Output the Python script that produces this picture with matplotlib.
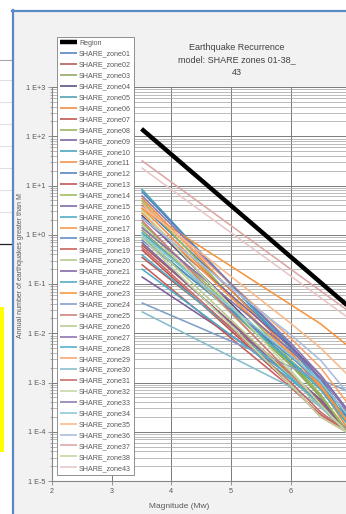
import matplotlib.pyplot as plt
from matplotlib.lines import Line2D
from matplotlib.patches import Rectangle
from matplotlib.ticker import FixedLocator, LogLocator, FuncFormatter, NullFormatter
import numpy as np

plt.rcParams['font.family'] = ['Liberation Sans', 'DejaVu Sans']

W, H = 346, 514

# magnitudes at which the recurrence curves are tabulated
mags = [3.5, 6.0, 6.5, 7.0]

series_names = (['Region'] + ['SHARE_zone%02d' % i for i in range(1, 39)]
                + ['SHARE_zone43'])

# log10 of the annual number of events >= M, one value per series
log_n_35 = [2.15, 0.60, -0.20, 0.10, 0.40, -0.05, 0.75, -0.45, 0.25, -0.85,
            0.93, 0.55, 0.88, -0.30, 0.70, 0.35, 0.05, 0.45, -0.10, -0.60,
            0.20, -0.15, -0.69, 0.53, -1.38, 0.30, 0.00, 0.15, -0.40, 0.65,
            -1.56, -0.25, 0.50, 0.80, 0.00, 0.58, 0.35, 1.51, -0.05, 1.36]
log_n_60 = [-0.45, -2.28, -2.83, -2.65, -2.60, -2.55, -2.38, -2.83, -2.63, -2.85,
            -2.32, -2.45, -2.25, -3.05, -2.55, -2.28, -2.58, -2.43, -2.48, -3.10,
            -2.80, -2.90, -2.94, -1.42, -2.68, -2.83, -2.88, -2.35, -2.90, -2.10,
            -3.09, -3.00, -2.75, -2.20, -2.45, -1.80, -2.03, -0.70, -3.05, -0.84]
log_n_65 = [-0.97, -2.95, -3.40, -3.30, -3.25, -3.10, -3.10, -3.35, -3.25, -3.35,
            -3.02, -3.10, -2.92, -3.70, -3.25, -2.85, -3.15, -3.05, -3.00, -3.65,
            -3.45, -3.50, -3.44, -1.81, -2.94, -3.50, -3.50, -2.90, -3.45, -2.70,
            -3.49, -3.60, -3.45, -2.85, -2.99, -2.30, -2.55, -1.14, -3.70, -1.28]
log_n_70 = [-1.49, -3.93, -4.10, -4.10, -4.10, -3.80, -4.03, -4.08, -4.08, -4.05,
            -3.92, -3.90, -3.80, -4.05, -4.10, -3.63, -3.93, -3.88, -3.73, -4.05,
            -4.10, -4.05, -4.10, -2.30, -3.20, -4.05, -4.05, -3.65, -4.10, -3.50,
            -4.10, -4.05, -4.10, -3.70, -3.73, -2.90, -3.28, -1.58, -4.05, -1.72]

series_colors = ['#000000',
                 '#4f81bd', '#b0574f', '#8da562', '#584b78', '#4a9fb3', '#f08a3c',
                 '#c0504d', '#93b557', '#7a5f9c', '#45a3bb', '#f38f42', '#4f81bd',
                 '#c0504d', '#9bbb59', '#8064a2', '#4bacc6', '#f79646', '#5b8cc4',
                 '#c85c59', '#b3c98a', '#8064a2', '#4bacc6', '#f7953f', '#7f9fc8',
                 '#d07d7a', '#b7cc8f', '#8a70aa', '#4eb0c8', '#f7a46c', '#86bccb',
                 '#c86a67', '#c4d6a0', '#8d79ad', '#8ac8d8', '#f9b98a', '#a7bedd',
                 '#dba6a4', '#c2d6a0', '#e8c6c6']


def fig_xy(x, y):
    return x / W, 1 - y / H


fig = plt.figure(figsize=(W / 100, H / 100), dpi=100, facecolor='white')

# surrounding window bits to the left of the chart
for yy, col in [(60, '#a6a6a6'), (80, '#e0e0e0'), (102, '#e0e0e0'),
                (124, '#e0e0e0'), (146, '#e0e0e0'), (168, '#e0e0e0'),
                (190, '#e0e0e0'), (212, '#e0e0e0')]:
    fig.add_artist(Line2D([0, 12 / W], [1 - yy / H] * 2, color=col, lw=0.8,
                          zorder=-2))
fig.add_artist(Line2D([0, 12 / W], [1 - 244 / H] * 2, color='#202020', lw=0.9,
                      zorder=-2))
fig.add_artist(Rectangle(fig_xy(0, 452), 4 / W, 145 / H, color='#ffff00', lw=0,
                         zorder=-2))

# chart area with its blue frame
fig.add_artist(Rectangle(fig_xy(13, 514), 1 - 13 / W, 503 / H,
                         facecolor='#f2f2f2', edgecolor='none', zorder=-3))
fig.add_artist(Line2D([12.5 / W] * 2, [0, 1 - 10 / H], color='#5a8ac6', lw=1.6,
                      zorder=-2))
fig.add_artist(Line2D([12 / W, 1], [1 - 10.5 / H] * 2, color='#5a8ac6', lw=1.6,
                      zorder=-2))

ax = fig.add_axes([52 / W, 1 - 481 / H, 294 / W, 394 / H])
ax.set_zorder(2)
ax.set_facecolor('white')

for name, col, a, b, c, d in zip(series_names, series_colors,
                                  log_n_35, log_n_60, log_n_65, log_n_70):
    rates = 10 ** np.array([a, b, c, d])
    lw = 3.2 if name == 'Region' else 1.15
    ax.plot(mags, rates, color=col, lw=lw, label=name, solid_capstyle='butt')

ax.set_yscale('log')
ax.set_xlim(2, 2 + 294 / 59.7)
ax.set_ylim(1e-5, 1e3)

ax.xaxis.set_major_locator(FixedLocator([2, 3, 4, 5, 6]))
ax.yaxis.set_major_locator(FixedLocator([10.0 ** k for k in range(-5, 4)]))
ax.yaxis.set_major_formatter(FuncFormatter(
    lambda v, pos: '1 E%+d' % int(round(np.log10(v)))))
ax.yaxis.set_minor_locator(LogLocator(base=10, subs=np.arange(2, 10), numticks=30))
ax.yaxis.set_minor_formatter(NullFormatter())

ax.grid(which='major', axis='both', color='#7a7a7a', lw=0.7)
ax.grid(which='minor', axis='y', color='#a0a0a0', lw=0.5)
ax.set_axisbelow(True)

for side in ['top', 'right']:
    ax.spines[side].set_visible(False)
for side in ['left', 'bottom']:
    ax.spines[side].set_color('#868686')
    ax.spines[side].set_linewidth(0.8)

ax.tick_params(which='major', direction='out', length=3, width=0.6,
               color='#868686', labelsize=5.2, labelcolor='#595959', pad=2)
ax.tick_params(which='minor', direction='out', length=1.5, width=0.5,
               color='#868686')

leg = ax.legend(loc='upper left', bbox_to_anchor=fig_xy(57, 37),
                bbox_transform=fig.transFigure, fontsize=5.1, frameon=True,
                fancybox=False, framealpha=1, edgecolor='#7f7f7f',
                handlelength=2.4, handletextpad=0.3, labelspacing=0.55,
                borderpad=0.4, borderaxespad=0)
leg.get_frame().set_linewidth(0.6)
for t in leg.get_texts():
    t.set_color('#595959')

fig.text(237 / W, 1 - 60 / H, 'Earthquake Recurrence\nmodel: SHARE zones 01-38_\n43',
         ha='center', va='center', fontsize=6.5, color='#404040', linespacing=1.5)
fig.text(21 / W, 1 - 266 / H, 'Annual number of earthquakes greater than M',
         rotation=90, ha='center', va='center', fontsize=5, color='#595959')
fig.text(179 / W, 1 - 506 / H, 'Magnitude (Mw)', ha='center', va='center',
         fontsize=6, color='#595959')

fig.savefig('out.png', dpi=100)
